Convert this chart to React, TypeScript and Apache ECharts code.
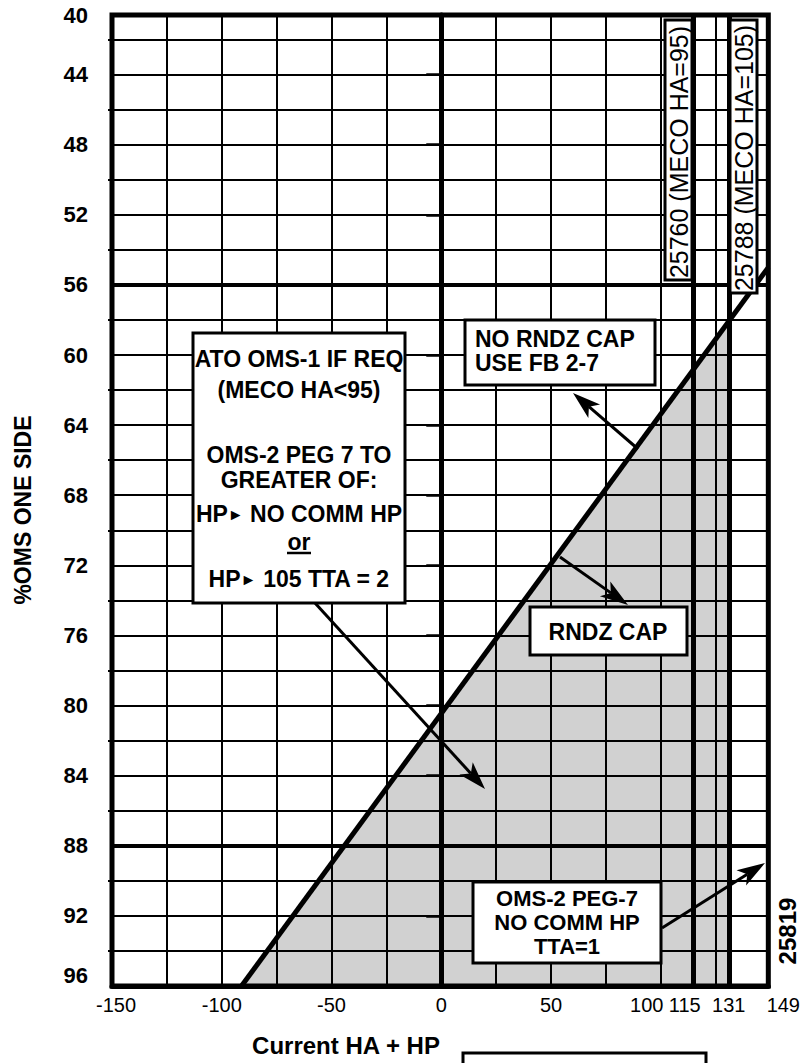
import React, { useEffect, useRef } from "react";
import * as echarts from "echarts";

// ---- data ----
const X_MIN = -150;
const X_MAX = 149;
const Y_MIN = 40.6; // the chart's top edge (labelled 40) sits slightly below 40
const Y_MAX = 96;
const xLabelValues = [-150, -100, -50, 0, 50, 100, 115, 131, 149];
const xGridValues = [-125, -100, -75, -50, -25, 0, 25, 50, 75, 100, 125];
const yLabelValues = [40, 44, 48, 52, 56, 60, 64, 68, 72, 76, 80, 84, 88, 92, 96];
const yMajorTicks = [44, 48, 52, 56, 60, 64, 68, 72, 76, 80, 84, 88, 92];
const yMinorTicks = [42, 46, 50, 54, 58, 62, 66, 70, 74, 78, 82, 86, 90, 94];
const yGridValues = [42, 44, 46, 48, 50, 52, 54, 58, 60, 62, 64, 66, 68, 70, 72, 74, 76, 78, 80, 82, 84, 86, 90, 92, 94];
const mecoLines = [115, 131];
const thickY = [56, 88];
const boundaryX = [-91, 149];
const boundaryY = [96, 55.0];
const capX = [-91, 131, 131];
const capY = [96, 58.1, 96];

const FONT = '"Liberation Sans", Arial, sans-serif';

function arrow(x1: number, y1: number, x2: number, y2: number, head = 28, half = 9) {
  const dx = x2 - x1, dy = y2 - y1;
  const L = Math.hypot(dx, dy);
  const ux = dx / L, uy = dy / L;
  const bx = x2 - ux * head, by = y2 - uy * head;
  const nx = x2 - ux * head * 0.75, ny = y2 - uy * head * 0.75;
  const px = -uy, py = ux;
  return [
    { type: "line", z: 100, shape: { x1, y1, x2: nx, y2: ny }, style: { stroke: "#000", lineWidth: 3 } },
    {
      type: "polygon", z: 100,
      shape: { points: [[x2, y2], [bx + px * half, by + py * half], [nx, ny], [bx - px * half, by - py * half]] },
      style: { fill: "#000" },
    },
  ];
}

function txt(text: string, x: number, y: number, opts: any = {}) {
  const font = opts.font || `bold 23px ${FONT}`;
  const align = opts.align || "center";
  return {
    type: "text", z: 101, x, y, rotation: opts.rotation || 0,
    style: {
      text, font, fill: "#000", align, textAlign: align, verticalAlign: "middle", textVerticalAlign: "middle",
      rich: { a: { font: `bold 16px ${FONT}`, fill: "#000", verticalAlign: "middle" } },
    },
  };
}

function box(x: number, y: number, w: number, h: number) {
  return { type: "rect", z: 99, shape: { x, y, width: w, height: h }, style: { fill: "#fff", stroke: "#000", lineWidth: 3 } };
}

const XF = 20;
const xRich = (pad: number[]) => ({ fontFamily: FONT, fontSize: XF, color: "#000", padding: pad });

export default function App() {
  const ref = useRef<HTMLDivElement>(null);
  useEffect(() => {
    if (!ref.current) return;
    const chart = echarts.init(ref.current, undefined, { renderer: "svg" });
    const solid = (w: number) => ({ color: "#000", width: w, type: "solid" });
    const gridMarks: any[] = [
      ...xGridValues.map((v) => ({ xAxis: v, lineStyle: solid(v === 0 ? 3 : 2) })),
      ...yGridValues.map((v) => ({ yAxis: v, lineStyle: solid(2) })),
      ...mecoLines.map((v) => ({ xAxis: v, lineStyle: solid(5) })),
      ...thickY.map((v) => ({ yAxis: v, lineStyle: solid(4) })),
    ];
    const option: any = {
      animation: false,
      backgroundColor: "#fff",
      grid: { left: 112, top: 15, width: 658, height: 971, show: true, borderColor: "#000", borderWidth: 5, backgroundColor: "transparent" },
      xAxis: {
        type: "value", min: X_MIN, max: X_MAX,
        axisLine: { show: true, onZero: false, lineStyle: { color: "#000", width: 5 } },
        axisTick: { show: false },
        splitLine: { show: false },
        axisLabel: {
          customValues: xLabelValues,
          showMinLabel: true, showMaxLabel: true,
          margin: 9, color: "#000", fontFamily: FONT, fontSize: XF,
          formatter: (v: number) => {
            if (v === 100) return "{l|100}";
            if (v === 115) return "{m|115}";
            if (v === 149) return "{r|149}";
            if (v === -150) return "{s|-150}";
            return "{n|" + v + "}";
          },
          rich: {
            n: xRich([0, 0, 0, 0]),
            l: xRich([0, 28, 0, 0]),
            m: xRich([0, 18, 0, 0]),
            r: xRich([0, 0, 0, 30]),
            s: xRich([0, 0, 0, 8]),
          },
        },
      },
      yAxis: [
        {
          type: "value", inverse: true, min: Y_MIN, max: Y_MAX, position: "left",
          axisLine: { show: true, lineStyle: { color: "#000", width: 5 } },
          axisTick: { show: true, customValues: yMajorTicks, length: 15, lineStyle: { color: "#000", width: 2.5 } },
          splitLine: { show: false },
          axisLabel: {
            customValues: yLabelValues.map((v) => Math.max(v, Y_MIN)),
            showMinLabel: true, showMaxLabel: true,
            margin: 24, color: "#000", fontFamily: FONT, fontWeight: "bold", fontSize: 22,
            formatter: (v: number) => {
              const n = Math.round(v / 4) * 4;
              return n === 96 ? "{b|96}" : "{a|" + n + "}";
            },
            rich: {
              a: { fontFamily: FONT, fontWeight: "bold", fontSize: 22, color: "#000" },
              b: { fontFamily: FONT, fontWeight: "bold", fontSize: 22, color: "#000", padding: [0, 0, 22, 0] },
            },
          },
        },
        {
          type: "value", inverse: true, min: Y_MIN, max: Y_MAX, position: "left", offset: 0,
          axisLine: { show: false },
          axisTick: { show: true, customValues: yMinorTicks, length: 4, lineStyle: { color: "#000", width: 2 } },
          axisLabel: { show: false },
          splitLine: { show: false },
        },
      ],
      series: [
        {
          type: "line", z: 2, silent: true,
          data: capX.map((x, i) => [x, capY[i]]),
          symbol: "none",
          lineStyle: { width: 0, opacity: 0 },
          areaStyle: { color: "rgba(0,0,0,0.18)", origin: "end", opacity: 1 },
          markLine: { silent: true, symbol: "none", label: { show: false }, animation: false, data: gridMarks },
        },
        {
          type: "line", z: 4, silent: true,
          data: boundaryX.map((x, i) => [x, boundaryY[i]]),
          symbol: "none",
          lineStyle: { color: "#000", width: 5 },
        },
      ],
      graphic: [
        // vertical MECO labels
        box(665, 20, 27, 260),
        txt("25760 (MECO HA=95)", 679, 152, { rotation: Math.PI / 2, font: `25px ${FONT}` }),
        box(730, 20, 27, 273),
        txt("25788 (MECO HA=105)", 744, 158, { rotation: Math.PI / 2, font: `25px ${FONT}` }),
        // ATO box
        box(193, 333, 212, 270),
        txt("ATO OMS-1 IF REQ", 299, 359),
        txt("(MECO HA<95)", 299, 390),
        txt("OMS-2 PEG 7 TO", 299, 455),
        txt("GREATER OF:", 299, 480),
        txt("HP{a|\u25BA} NO COMM HP", 299, 514),
        txt("or", 299, 542),
        { type: "line", z: 101, shape: { x1: 287, y1: 553, x2: 311, y2: 553 }, style: { stroke: "#000", lineWidth: 2.5 } },
        txt("HP{a|\u25BA} 105 TTA = 2", 299, 579),
        // NO RNDZ CAP box
        box(465, 320, 190, 65),
        txt("NO RNDZ CAP", 475, 339, { align: "left" }),
        txt("USE FB 2-7", 475, 363, { align: "left" }),
        // RNDZ CAP box
        box(530, 607, 157, 48),
        txt("RNDZ CAP", 608, 632),
        // OMS-2 PEG-7 box
        box(473, 882, 188, 81),
        txt("OMS-2 PEG-7", 567, 898, { font: `bold 22px ${FONT}` }),
        txt("NO COMM HP", 567, 922, { font: `bold 22px ${FONT}` }),
        txt("TTA=1", 567, 946, { font: `bold 22px ${FONT}` }),
        // arrows
        ...arrow(638, 449, 573, 393),
        ...arrow(560, 557, 628, 605),
        ...arrow(315, 603, 485, 789),
        ...arrow(662, 928, 765, 863),
        // side labels
        txt("25819", 787, 931, { rotation: Math.PI / 2, font: `bold 24px ${FONT}` }),
        txt("%OMS ONE SIDE", 23, 510, { rotation: Math.PI / 2, font: `bold 23px ${FONT}` }),
        txt("Current HA + HP", 346, 1045, { font: `bold 24px ${FONT}` }),
        box(463, 1053, 243, 40),
      ],
    };
    chart.setOption(option);
    return () => chart.dispose();
  }, []);
  return (
    <div
      ref={ref}
      style={{ position: "absolute", left: 0, top: 0, width: 803, height: 1063, background: "#fff" }}
    />
  );
}
